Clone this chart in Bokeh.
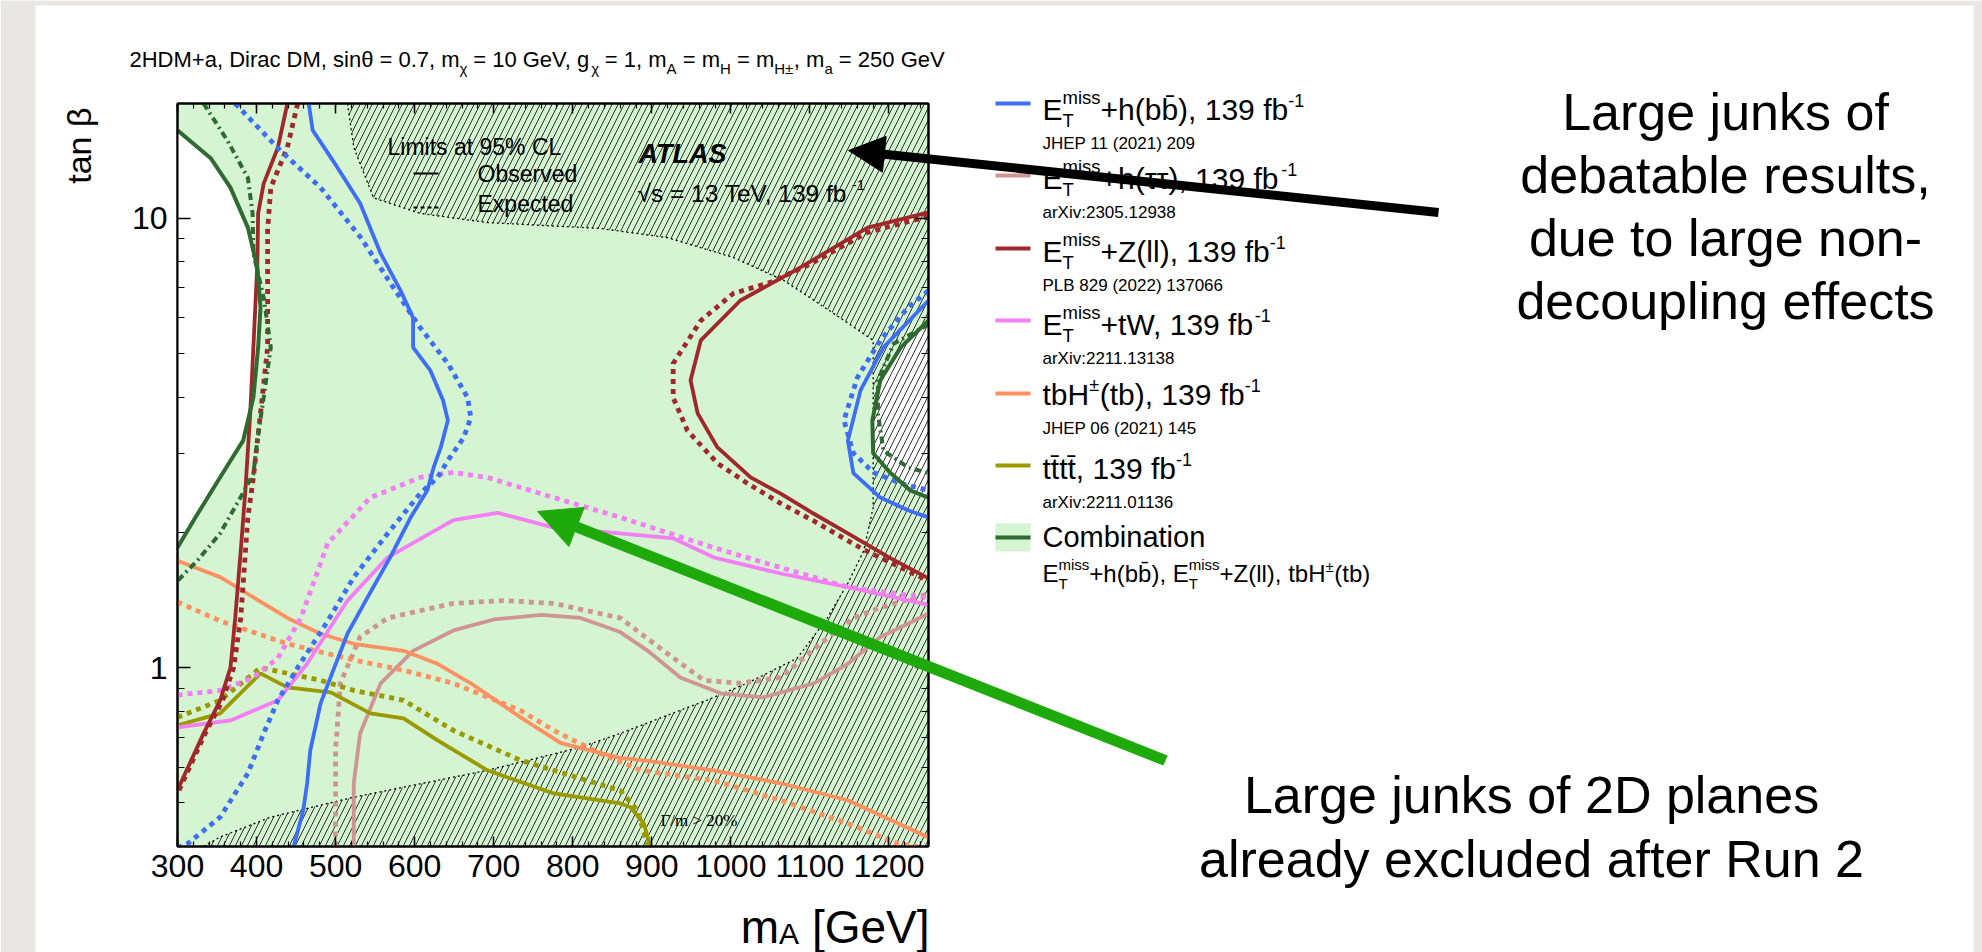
from bokeh.plotting import figure
from bokeh.models import (Label, Arrow, NormalHead, FixedTicker, LinearAxis, LogAxis,
                          Range1d, PrintfTickFormatter)
from bokeh.embed import file_html
from bokeh.resources import INLINE

# ---------------- axis ranges and ticks ----------------
m_range = (300, 1250)
tb_range = (0.4, 18)
m_major_ticks = [300, 400, 500, 600, 700, 800, 900, 1000, 1100, 1200]
m_minor_ticks = list(range(300, 1251, 20))
tb_major_ticks = [1, 10]
tb_minor_ticks = [0.4, 0.5, 0.6, 0.7, 0.8, 0.9, 2, 3, 4, 5, 6, 7, 8, 9]

# ---------------- contours (m_A [GeV], tan beta) ----------------
# E_T^miss + h(bb)
bb_obs_m = [466, 471, 497, 531, 557, 582, 598, 598, 620, 636, 642, 633, 624, 616, 595, 569, 540, 515, 497, 481, 468, 464, 459, 447]
bb_obs_t = [18, 15.7, 13.4, 10.8, 8.35, 6.91, 6.01, 5.16, 4.58, 3.93, 3.55, 3.09, 2.79, 2.48, 2.16, 1.76, 1.43, 1.19, 0.986, 0.833, 0.655, 0.553, 0.481, 0.4]
bb_exp_m = [373, 430, 481, 532, 578, 607, 642, 667, 671, 662, 642, 629, 607, 566, 523, 490, 452, 427, 409, 389, 354, 313, 303]
bb_exp_t = [18, 14.15, 11.7, 9.05, 6.80, 5.71, 4.75, 3.99, 3.60, 3.25, 2.89, 2.65, 2.44, 1.99, 1.59, 1.27, 1.0, 0.846, 0.714, 0.582, 0.465, 0.406, 0.4]
bb_obs_r_m = [1250, 1193, 1164, 1148, 1155, 1189, 1224, 1250]
bb_obs_r_t = [6.56, 5.16, 4.14, 3.20, 2.71, 2.39, 2.24, 2.16]
bb_exp_r_m = [1250, 1224, 1189, 1160, 1143, 1155, 1180, 1215, 1250]
bb_exp_r_t = [6.9, 6.33, 5.35, 4.42, 3.55, 3.0, 2.72, 2.57, 2.48]

# E_T^miss + h(tautau)
tt_obs_m = [523, 523, 531, 557, 598, 649, 700, 760, 810, 860, 895, 936, 987, 1041, 1105, 1148, 1189, 1231, 1250]
tt_obs_t = [0.4, 0.553, 0.714, 0.923, 1.09, 1.21, 1.28, 1.31, 1.29, 1.2, 1.09, 0.951, 0.877, 0.859, 0.923, 1.02, 1.17, 1.27, 1.32]
tt_exp_m = [500, 500, 506, 531, 566, 649, 712, 776, 860, 915, 966, 1012, 1063, 1113, 1155, 1189, 1250]
tt_exp_t = [0.4, 0.655, 0.923, 1.17, 1.29, 1.39, 1.41, 1.39, 1.29, 1.09, 0.937, 0.923, 0.951, 1.13, 1.29, 1.36, 1.46]

# E_T^miss + Z(ll)
zl_obs_m = [439, 427, 409, 402, 401, 396, 392, 389, 386, 380, 373, 367, 354, 333, 304, 300]
zl_obs_t = [18, 14.37, 11.94, 10.25, 7.93, 5.16, 3.68, 3.04, 2.5, 1.82, 1.29, 1.0, 0.846, 0.714, 0.553, 0.533]
zl_exp_m = [452, 439, 418, 414, 414, 405, 396, 389, 380, 371, 357, 335, 306, 300]
zl_exp_t = [18, 14.37, 11.7, 9.39, 5.16, 3.68, 2.65, 2.16, 1.29, 1.0, 0.846, 0.714, 0.553, 0.525]
zl_obs_r_m = [1250, 1173, 1088, 1012, 962, 949, 958, 983, 1025, 1063, 1105, 1148, 1200, 1250]
zl_obs_r_t = [10.3, 9.53, 7.77, 6.56, 5.35, 4.36, 3.68, 3.09, 2.65, 2.44, 2.2, 1.99, 1.76, 1.58]
zl_exp_r_m = [1250, 1173, 1100, 1050, 1003, 962, 927, 927, 945, 983, 1021, 1063, 1105, 1168, 1250]
zl_exp_r_t = [10.1, 9.3, 7.9, 7.2, 6.8, 5.92, 4.75, 3.99, 3.37, 2.85, 2.57, 2.32, 2.12, 1.83, 1.56]

# E_T^miss + tW
tw_obs_m = [300, 367, 427, 464, 515, 566, 649, 705, 776, 860, 927, 978, 1063, 1148, 1250]
tw_obs_t = [0.736, 0.763, 0.846, 1.02, 1.41, 1.76, 2.13, 2.21, 2.05, 1.99, 1.94, 1.76, 1.62, 1.51, 1.38]
tw_exp_m = [300, 354, 396, 427, 456, 490, 544, 607, 649, 692, 776, 860, 978, 1063, 1148, 1250]
tw_exp_t = [0.869, 0.89, 0.951, 1.05, 1.29, 1.89, 2.39, 2.65, 2.72, 2.65, 2.39, 2.16, 1.85, 1.67, 1.51, 1.43]

# tbH+-(tb)
hc_obs_m = [300, 354, 439, 481, 523, 586, 629, 671, 734, 785, 860, 895, 978, 1063, 1148, 1250]
hc_obs_t = [1.73, 1.59, 1.29, 1.19, 1.13, 1.09, 1.02, 0.923, 0.775, 0.679, 0.63, 0.62, 0.591, 0.553, 0.507, 0.419]
hc_exp_m = [300, 354, 439, 523, 586, 649, 734, 776, 830, 886, 978, 1063, 1148, 1211, 1236]
hc_exp_t = [1.40, 1.27, 1.13, 1.04, 0.986, 0.923, 0.803, 0.725, 0.65, 0.591, 0.561, 0.507, 0.45, 0.406, 0.4]

# tttt
t4_obs_m = [300, 354, 405, 439, 494, 544, 586, 629, 692, 776, 860, 873, 890, 898]
t4_obs_t = [0.744, 0.791, 0.971, 0.904, 0.881, 0.791, 0.771, 0.689, 0.591, 0.525, 0.499, 0.489, 0.45, 0.4]
t4_exp_m = [300, 354, 405, 481, 523, 586, 649, 734, 860, 882, 895]
t4_exp_t = [0.775, 0.846, 1.0, 0.937, 0.89, 0.846, 0.725, 0.622, 0.533, 0.481, 0.4]

# Combination
gc_obs_m = [300, 342, 367, 389, 401, 405, 402, 396, 383, 365, 345, 322, 300]
gc_obs_t = [15.7, 13.6, 11.7, 9.53, 7.77, 6.33, 5.16, 3.99, 3.2, 2.85, 2.5, 2.15, 1.85]
gc_exp_m = [333, 363, 389, 395, 396, 409, 418, 409, 401, 396, 383, 354, 325, 300]
gc_exp_t = [18, 14.9, 12.3, 10.25, 8.35, 6.66, 5.16, 3.99, 3.2, 2.7, 2.45, 1.99, 1.73, 1.56]
gc_obs_r_m = [1250, 1215, 1189, 1179, 1180, 1202, 1227, 1250]
gc_obs_r_t = [5.92, 5.16, 4.36, 3.55, 3.0, 2.71, 2.48, 2.39]
gc_exp_r_m = [1250, 1206, 1186, 1186, 1193, 1224, 1250]
gc_exp_r_t = [5.8, 5.26, 4.36, 3.68, 3.04, 2.79, 2.71]

# Validity boundary (Gamma/m > 20% etc.), hatched outside
hatch_m = [515, 523, 548, 607, 692, 835, 920, 1003, 1067, 1130, 1180, 1180, 1168, 1148, 1122, 1084, 1021, 970, 860, 810, 692, 523, 418, 354, 333]
hatch_t = [18, 14.37, 11.1, 10.25, 9.78, 9.49, 9.05, 8.18, 7.27, 6.14, 5.35, 2.27, 1.82, 1.54, 1.29, 1.05, 0.924, 0.847, 0.714, 0.665, 0.591, 0.515, 0.465, 0.42, 0.4]

# ---------------- text ----------------
title_parts = ["2HDM+a, Dirac DM, sinθ = 0.7, m", "χ", " = 10 GeV, g", "χ", " = 1, m", "A", " = m", "H", " = m", "H±", ", m", "a", " = 250 GeV"]
legend_refs = ["JHEP 11 (2021) 209", "arXiv:2305.12938", "PLB 829 (2022) 137066",
               "arXiv:2211.13138", "JHEP 06 (2021) 145", "arXiv:2211.01136"]
note_top = ["Large junks of", "debatable results,", "due to large non-", "decoupling effects"]
note_bottom = ["Large junks of 2D planes", "already excluded after Run 2"]

# ---------------- colours ----------------
C_BLUE = "#3d6ef5"
C_ROSY = "#d09494"
C_MAROON = "#a0282a"
C_VIOLET = "#f47ef4"
C_ORANGE = "#ff9060"
C_OLIVE = "#9a9a00"
C_DGREEN = "#2f6a30"
C_LGREEN = "#d4f4d2"
C_ARROWG = "#1faa0c"
C_PAGE = "#e9e7e3"

FONT = "Liberation Sans"

# ---------------- page geometry ----------------
PW, PH = 1982, 952
FL, FT, FR, FB = 177, 103, 928, 846  # plot frame in page pixels

p = figure(width=PW, height=PH, title=None,
           x_range=Range1d(*m_range), y_range=Range1d(*tb_range), y_axis_type="log",
           output_backend="svg", toolbar_location=None,
           min_border_left=FL, min_border_right=PW - FR,
           min_border_top=FT, min_border_bottom=PH - FB)
p.background_fill_color = C_LGREEN
p.border_fill_color = "white"
p.outline_line_color = "black"
p.outline_line_width = 2
p.grid.visible = False


def style_axis(ax, major_in, minor_in, labels=True):
    ax.major_tick_in = major_in
    ax.major_tick_out = 0
    ax.minor_tick_in = minor_in
    ax.minor_tick_out = 0
    ax.major_tick_line_color = "black"
    ax.minor_tick_line_color = "black"
    ax.major_tick_line_width = 1.5
    ax.minor_tick_line_width = 1.2
    ax.axis_line_color = "black"
    ax.axis_line_width = 2
    ax.major_label_text_font = FONT
    if labels:
        ax.major_label_text_color = "black"
        ax.major_label_text_font_size = "32px"
    else:
        ax.major_label_text_color = None
        ax.major_label_text_font_size = "10px"


xt = FixedTicker(ticks=m_major_ticks, minor_ticks=m_minor_ticks)
yt = FixedTicker(ticks=tb_major_ticks, minor_ticks=tb_minor_ticks)
p.xaxis.ticker = xt
p.yaxis.ticker = yt
p.yaxis.formatter = PrintfTickFormatter(format="%d")
style_axis(p.xaxis[0], 10, 5)
style_axis(p.yaxis[0], 13, 7)
p.xaxis[0].major_label_standoff = 8
p.yaxis[0].major_label_standoff = 10

top_ax = LinearAxis(ticker=xt)
style_axis(top_ax, 10, 5, labels=False)
p.add_layout(top_ax, "above")
right_ax = LogAxis(ticker=yt, formatter=PrintfTickFormatter(format="%d"))
style_axis(right_ax, 13, 7, labels=False)
p.add_layout(right_ax, "right")

# ---------------- regions ----------------
p.patch(gc_obs_m, gc_obs_t, fill_color="white", line_color=None)
p.patch(gc_obs_r_m, gc_obs_r_t, fill_color="white", line_color=None)
p.patch(hatch_m + [1250, 1250], hatch_t + [0.4, 18], fill_alpha=0, line_color=None,
        hatch_pattern="/", hatch_color="black", hatch_alpha=0.8, hatch_weight=1.0, hatch_scale=12)
p.line(hatch_m, hatch_t, line_color="black", line_width=1.3, line_dash="2 3")

# ---------------- contour lines ----------------
OBS_W, EXP_W, EXP_DASH = 3.8, 4.8, "5 5"
curves = [
    (tt_obs_m, tt_obs_t, tt_exp_m, tt_exp_t, C_ROSY),
    (hc_obs_m, hc_obs_t, hc_exp_m, hc_exp_t, C_ORANGE),
    (t4_obs_m, t4_obs_t, t4_exp_m, t4_exp_t, C_OLIVE),
    (tw_obs_m, tw_obs_t, tw_exp_m, tw_exp_t, C_VIOLET),
    (zl_obs_m, zl_obs_t, zl_exp_m, zl_exp_t, C_MAROON),
    (zl_obs_r_m, zl_obs_r_t, zl_exp_r_m, zl_exp_r_t, C_MAROON),
    (bb_obs_m, bb_obs_t, bb_exp_m, bb_exp_t, C_BLUE),
    (bb_obs_r_m, bb_obs_r_t, bb_exp_r_m, bb_exp_r_t, C_BLUE),
]
for om, ot, em, et, col in curves:
    p.line(em, et, line_color=col, line_width=EXP_W, line_dash=EXP_DASH)
    p.line(om, ot, line_color=col, line_width=OBS_W)
for om, ot, em, et in [(gc_obs_m, gc_obs_t, gc_exp_m, gc_exp_t),
                       (gc_obs_r_m, gc_obs_r_t, gc_exp_r_m, gc_exp_r_t)]:
    p.line(em, et, line_color=C_DGREEN, line_width=4.0, line_dash="7 4 2 4")
    p.line(om, ot, line_color=C_DGREEN, line_width=4.0)

# ---------------- transparent overlay in page pixels (texts outside the frame) ----------------
ov = figure(width=PW, height=PH, title=None, x_range=Range1d(0, PW), y_range=Range1d(PH, 0),
            x_axis_location=None, y_axis_location=None, toolbar_location=None,
            output_backend="svg", min_border=0)
ov.background_fill_color = None
ov.border_fill_color = None
ov.outline_line_color = None
ov.grid.visible = False
ov.styles = {"position": "absolute", "left": "0px", "top": "0px", "z-index": "5"}

# slide background strips
ov.quad(left=[0, 0, 1973], right=[35, PW, PW], top=[0, 0, 0], bottom=[PH, 5, PH],
        fill_color=C_PAGE, line_color=None)

_W = {' ': 278, '!': 278, '%': 889, '(': 333, ')': 333, '+': 584, ',': 278, '-': 333, '.': 278,
      '/': 278, ':': 278, '=': 584, '>': 584, '[': 278, ']': 278, '±': 584, '√': 549, 'θ': 556,
      'χ': 500, 'β': 556, 'Γ': 556, 'τ': 440, '\u0304': 0}
_W.update({d: 556 for d in "0123456789"})
_W.update(dict(A=667, B=667, C=722, D=722, E=667, F=611, G=778, H=722, I=278, J=500, K=667, L=556,
               M=833, N=722, O=778, P=667, Q=778, R=722, S=667, T=611, U=722, V=667, W=944, X=667,
               Y=667, Z=611))
_W.update(dict(a=556, b=556, c=500, d=556, e=556, f=278, g=556, h=556, i=222, j=222, k=500, l=222,
               m=833, n=556, o=556, p=556, q=556, r=333, s=500, t=278, u=556, v=500, w=722, x=500,
               y=500, z=500))

BASE_FIX = 0.3  # rendered baseline sits lower than requested; lift texts by this fraction of size


def tw(s, size):
    return sum(_W.get(c, 556) for c in s) / 1000.0 * size


def L(X, Y, text, size, font=FONT, style="normal", color="black", align="left",
      baseline="alphabetic", angle=0.0, fix=True):
    if fix and baseline == "alphabetic":
        Y = Y - BASE_FIX * size
    ov.add_layout(Label(x=X, y=Y, text=text, text_font=font, text_font_size=f"{size}px",
                        text_font_style=style, text_color=color, text_align=align,
                        text_baseline=baseline, angle=angle))


def put(x, y, s, size, font, fix=True):
    # leading blanks are collapsed by the renderer: advance over them explicitly
    lead = len(s) - len(s.lstrip(" "))
    x0 = x + tw(" " * lead, size)
    if s.strip():
        L(x0, y, s.lstrip(" "), size, font=font, fix=fix)
    return x + tw(s, size)


def rich(X, Y, segs, font=FONT, fix=True):
    x = X
    for seg in segs:
        kind = seg[0]
        if kind == "t":
            _, s, size = seg
            x = put(x, Y, s, size, font, fix)
        elif kind == "sup":
            _, s, size, rise = seg
            x = put(x, Y - rise, s, size, font, fix)
        elif kind == "sub":
            _, s, size, drop = seg
            x = put(x, Y + drop, s, size, font, fix)
        else:  # stacked super/subscript
            _, sup, sub, size, rise, drop = seg
            x1 = put(x, Y - rise, sup, size, font, fix)
            x2 = put(x, Y + drop, sub, size, font, fix)
            x = max(x1, x2)
    return x


def seg_line(X0, Y0, X1, Y1, color, width, dash="solid"):
    ov.segment(x0=[X0], y0=[Y0], x1=[X1], y1=[Y1], line_color=color, line_width=width,
               line_dash=dash)


# ---------------- title ----------------
segs = []
for i, part in enumerate(title_parts):
    segs.append(("t", part, 22) if i % 2 == 0 else ("sub", part, 15, 6))
rich(129, 66, segs)

# axis titles
L(78, 107, "tan β", 34, align="right", baseline="middle", angle=1.5708)
xl_w = tw("m", 46) + tw("A", 30) + tw(" [GeV]", 46)
rich(929 - xl_w, 926, [("t", "m", 46), ("sub", "A", 30, 7), ("t", " [GeV]", 46)], fix=False)

# ---------------- in-frame texts ----------------
L(387, 153, "Limits at 95% CL", 23)
seg_line(413, 173, 438, 173, "black", 2)
L(477, 180, "Observed", 23)
seg_line(413, 207, 438, 207, "black", 2, dash="4 3")
L(477, 210, "Expected", 23)
L(638, 162, "ATLAS", 27, style="bold italic")
rich(637, 200, [("t", "√s = 13 TeV, 139 fb", 24.5), ("sup", "-1", 15, 11)])
L(660, 825, "Γ/m > 20%", 17, font="Liberation Serif")

# ---------------- legend ----------------
EM = [("t", "E", 30), ("ss", "miss", "T", 18.5, 15, 8)]
FB1 = [("sup", "-1", 18, 13)]
leg_rows = [
    (103, 118, C_BLUE, EM + [("t", "+h(bb\u0304), 139 fb", 30)] + FB1),
    (175, 187, C_ROSY, EM + [("t", "+h(ττ), 139 fb", 30)] + FB1),
    (248, 260, C_MAROON, EM + [("t", "+Z(ll), 139 fb", 30)] + FB1),
    (320, 333, C_VIOLET, EM + [("t", "+tW, 139 fb", 30)] + FB1),
    (393, 403, C_ORANGE, [("t", "tbH", 30), ("sup", "±", 18, 13), ("t", "(tb), 139 fb", 30)] + FB1),
    (465, 477, C_OLIVE, [("t", "tt\u0304tt\u0304, 139 fb", 30)] + FB1),
]
for (ly, by, col, sg), ref in zip(leg_rows, legend_refs):
    seg_line(995, ly, 1030, ly, col, 4)
    rich(1042, by, sg)
    L(1042, by + 30, ref, 17)

ov.quad(left=[995], right=[1030], top=[523], bottom=[551], fill_color=C_LGREEN, line_color=None)
seg_line(995, 537, 1030, 537, C_DGREEN, 4)
L(1042, 545, "Combination", 29)
EMs = [("t", "E", 24), ("ss", "miss", "T", 15, 12, 7)]
rich(1042, 580, EMs + [("t", "+h(bb\u0304), ", 24)] + EMs +
     [("t", "+Z(ll), tbH", 24), ("sup", "±", 15, 10), ("t", "(tb)", 24)])

# ---------------- notes ----------------
for i, line in enumerate(note_top):
    L(1725, 127 + i * 63, line, 52, align="center")
for i, line in enumerate(note_bottom):
    L(1531, 810 + i * 64, line, 52, align="center")

# ---------------- arrows ----------------
ov.add_layout(Arrow(x_start=1438, y_start=212, x_end=848, y_end=150,
                    end=NormalHead(size=36, fill_color="black", line_color="black"),
                    line_color="black", line_width=9))
ov.add_layout(Arrow(x_start=1165, y_start=760, x_end=537, y_end=511,
                    end=NormalHead(size=42, fill_color=C_ARROWG, line_color=C_ARROWG),
                    line_color=C_ARROWG, line_width=11))

html = file_html([p, ov], INLINE, title="2HDM+a tan beta vs mA")
html = html.replace("</head>", "<style>html,body{margin:0;padding:0;background:#ffffff;}</style></head>", 1)
open("out.html", "w").write(html)
